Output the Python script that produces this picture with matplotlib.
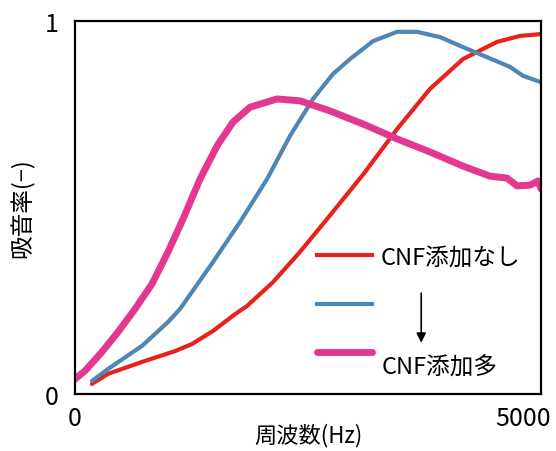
import matplotlib.pyplot as plt
from matplotlib.transforms import ScaledTranslation

plt.rcParams['font.family'] = ['Noto Sans CJK JP', 'DejaVu Sans']

# absorption curves read as (frequency Hz, coefficient)
freq_none = [182, 354, 719, 1073, 1255, 1481, 1717, 1846, 2125, 2414, 2704, 3090, 3455, 3809, 4163, 4528, 4775, 5000]
alpha_none = [0.027, 0.054, 0.086, 0.115, 0.134, 0.169, 0.214, 0.236, 0.300, 0.381, 0.469, 0.588, 0.710, 0.818, 0.898, 0.944, 0.960, 0.965]

freq_mid = [182, 354, 719, 998, 1127, 1481, 1770, 2060, 2307, 2554, 2768, 2951, 3197, 3455, 3670, 3916, 4163, 4421, 4668, 4807, 5000]
alpha_mid = [0.035, 0.067, 0.129, 0.193, 0.228, 0.354, 0.461, 0.576, 0.692, 0.791, 0.858, 0.898, 0.946, 0.971, 0.971, 0.957, 0.930, 0.903, 0.877, 0.853, 0.836]

freq_max = [0, 107, 290, 461, 644, 826, 998, 1159, 1341, 1524, 1695, 1878, 2167, 2414, 2736, 3090, 3455, 3809, 4163, 4453, 4635, 4743, 4882, 4968, 5000]
alpha_max = [0.040, 0.062, 0.113, 0.166, 0.228, 0.295, 0.381, 0.469, 0.576, 0.665, 0.729, 0.769, 0.791, 0.786, 0.759, 0.724, 0.684, 0.649, 0.611, 0.584, 0.579, 0.558, 0.560, 0.571, 0.550]

red = '#E8211B'
blue = '#4E86B6'
pink = '#E4388F'

fig = plt.figure(figsize=(5.56, 4.52), dpi=100)
ax = fig.add_axes([0.1349, 0.1261, 0.973 - 0.1349, 0.9513 - 0.1261])

style = dict(solid_capstyle='round', solid_joinstyle='round')
ax.plot(freq_none, alpha_none, color=red, lw=3.0, **style)
ax.plot(freq_mid, alpha_mid, color=blue, lw=3.0, **style)
ax.plot(freq_max, alpha_max, color=pink, lw=5.0, **style)

ax.set_xlim(0, 5000)
ax.set_ylim(0, 1)
ax.set_xticks([0, 5000], labels=['0', '5000'])
ax.set_yticks([0, 1])
ax.tick_params(length=0, labelsize=18)
ax.tick_params(axis='y', pad=12)
ax.tick_params(axis='x', pad=8)
for s in ax.spines.values():
    s.set_linewidth(1.6)
    s.set_color('black')

ax.set_xlabel('周波数(Hz)', fontsize=16, labelpad=-6)
ax.set_ylabel('吸音率(−)', fontsize=17, labelpad=7)

# pull the 5000 label back inside the figure
fig.canvas.draw()
lab = ax.get_xticklabels()[1]
lab.set_transform(lab.get_transform() + ScaledTranslation(-0.18, 0, fig.dpi_scale_trans))

# hand-made legend with an arrow from low to high CNF content
tr = ax.transAxes
ax.plot([0.519, 0.637], [0.373, 0.373], color=red, lw=3.0, transform=tr)
ax.plot([0.519, 0.637], [0.241, 0.241], color=blue, lw=3.0, transform=tr)
ax.plot([0.519, 0.637], [0.113, 0.113], color=pink, lw=5.0, transform=tr, solid_capstyle='round')
ax.text(0.655, 0.368, 'CNF添加なし', fontsize=17, va='center', transform=tr)
ax.text(0.658, 0.075, 'CNF添加多', fontsize=17, va='center', transform=tr)
ax.annotate('', xy=(0.743, 0.13), xytext=(0.743, 0.278), xycoords=tr,
            arrowprops=dict(arrowstyle='-|>', color='black', lw=1.2, mutation_scale=14))

fig.savefig('out.png', dpi=100)
